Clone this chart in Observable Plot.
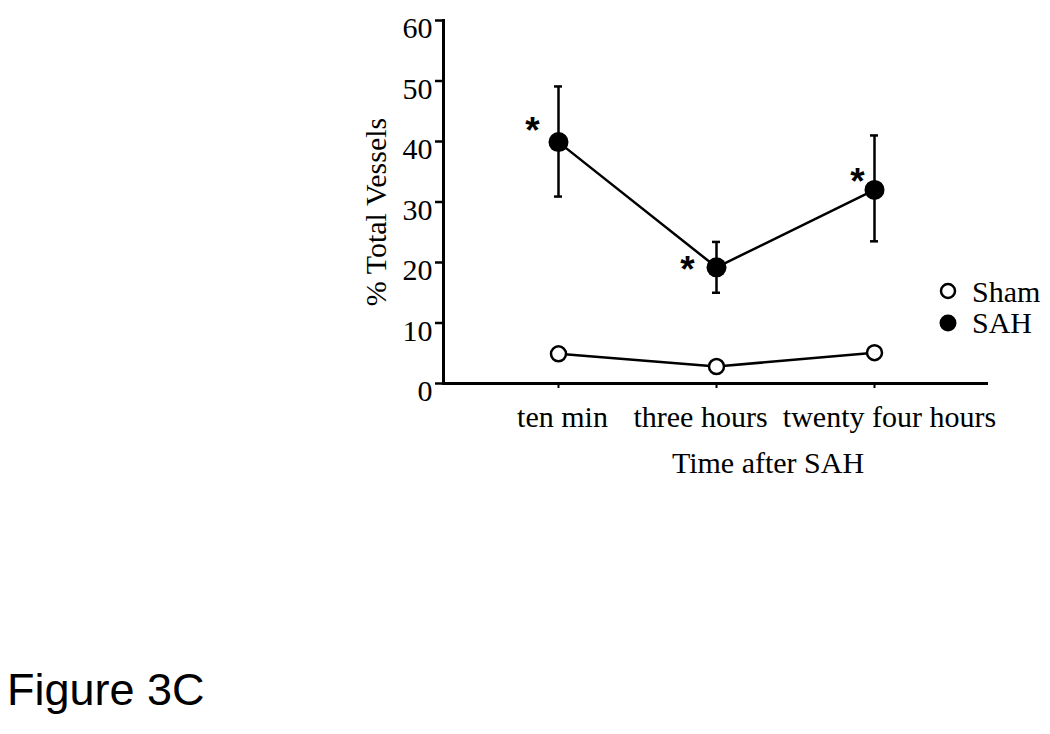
<!DOCTYPE html>
<html><head><meta charset="utf-8">
<script src="https://cdn.jsdelivr.net/npm/d3@7"></script>
<script src="https://cdn.jsdelivr.net/npm/@observablehq/plot@0.6"></script>
<style>
body{margin:0;background:#fff;width:1050px;height:734px;position:relative;overflow:hidden}
#chart{position:absolute;left:0;top:0}
#legend{position:absolute;left:0;top:0;pointer-events:none}
#caption{position:absolute;left:7px;top:667px;font-family:"Liberation Sans",Arial,sans-serif;font-size:45px;line-height:1;color:#000}
</style></head><body>
<div id="chart"></div>
<svg id="legend" width="1050" height="734"></svg>
<div id="caption">Figure 3C</div>
<script>
const times = ["ten min", "three hours", "twenty four hours"];
const shamValues = [4.9, 2.8, 5.1];
const sahValues = [39.9, 19.2, 32.0];
const sahLow = [30.9, 15.0, 23.5];
const sahHigh = [49.1, 23.4, 41.0];
const significance = ["*", "*", "*"];
const yTicks = [0, 10, 20, 30, 40, 50, 60];
const seriesNames = ["Sham", "SAH"];
const xTitle = "Time after SAH";
const yTitle = "% Total Vessels";

const data = times.map((t, i) => ({time: t, sham: shamValues[i], sah: sahValues[i], lo: sahLow[i], hi: sahHigh[i], star: significance[i]}));

const serif = '"Liberation Serif", "Times New Roman", serif';
const labelDx = [4, -16, 15];
const starOffsets = [[-26, -11], [-29, 3], [-17, -8]];

const plot = Plot.plot({
  width: 1050, height: 600,
  marginLeft: 443, marginRight: 62, marginTop: 20, marginBottom: 217,
  style: {fontFamily: serif, fontSize: "30px", color: "#000", background: "transparent"},
  x: {type: "point", domain: times, padding: 0.714},
  y: {domain: [0, 60]},
  marks: [
    Plot.frame({anchor: "left", strokeWidth: 3, stroke: "#000"}),
    Plot.ruleY([0], {strokeWidth: 3, stroke: "#000"}),
    Plot.axisY({ticks: yTicks, tickSize: 8, tickFormat: () => "", label: null, strokeWidth: 2.5}),
    Plot.axisY({ticks: yTicks, tickSize: 0, tickPadding: 11, dy: 8, label: null, fontSize: 30}),
    Plot.axisX({ticks: times, tickSize: 5, tickFormat: () => "", label: null, strokeWidth: 2}),
    ...times.map((t, i) => Plot.axisX({ticks: [t], tickSize: 0, tickPadding: 22, dx: labelDx[i], label: null, fontSize: 30})),
    Plot.text([xTitle], {frameAnchor: "bottom", dx: 52, dy: 89, lineAnchor: "bottom", fontSize: 30, fill: "#000"}),
    Plot.text([yTitle], {frameAnchor: "left", textAnchor: "middle", rotate: -90, dx: -67, dy: 10, fontSize: 30, fill: "#000"}),
    Plot.line(data, {x: "time", y: "sham", stroke: "#000", strokeWidth: 2.5}),
    Plot.line(data, {x: "time", y: "sah", stroke: "#000", strokeWidth: 2.5}),
    Plot.ruleX(data, {x: "time", y1: "lo", y2: "hi", stroke: "#000", strokeWidth: 2.5}),
    Plot.ruleY(data, {y: "lo", x1: "time", x2: "time", insetLeft: -4, insetRight: -4, stroke: "#000", strokeWidth: 2.5}),
    Plot.ruleY(data, {y: "hi", x1: "time", x2: "time", insetLeft: -4, insetRight: -4, stroke: "#000", strokeWidth: 2.5}),
    Plot.dot(data, {x: "time", y: "sham", r: 7.5, fill: "#fff", stroke: "#000", strokeWidth: 2.5}),
    Plot.dot(data, {x: "time", y: "sah", r: 10, fill: "#000", stroke: "none"}),
    ...data.map((d, i) => Plot.text([d], {x: "time", y: "sah", text: "star", dx: starOffsets[i][0], dy: starOffsets[i][1], fontFamily: '"Liberation Sans", Arial, sans-serif', fontWeight: "bold", fontSize: 37, fill: "#000"}))
  ]
});
document.getElementById("chart").appendChild(plot);

// legend
const lg = d3.select("#legend");
const items = [
  {name: seriesNames[0], cy: 291, r: 7, fill: "#fff", baseline: 302},
  {name: seriesNames[1], cy: 323, r: 8.5, fill: "#000", baseline: 333}
];
items.forEach(it => {
  lg.append("circle").attr("cx", 948).attr("cy", it.cy).attr("r", it.r)
    .attr("fill", it.fill).attr("stroke", "#000").attr("stroke-width", it.fill === "#fff" ? 2.5 : 0);
  lg.append("text").attr("x", 972).attr("y", it.baseline).attr("font-family", serif)
    .attr("font-size", 30).attr("fill", "#000").text(it.name);
});
</script>
</body></html>
